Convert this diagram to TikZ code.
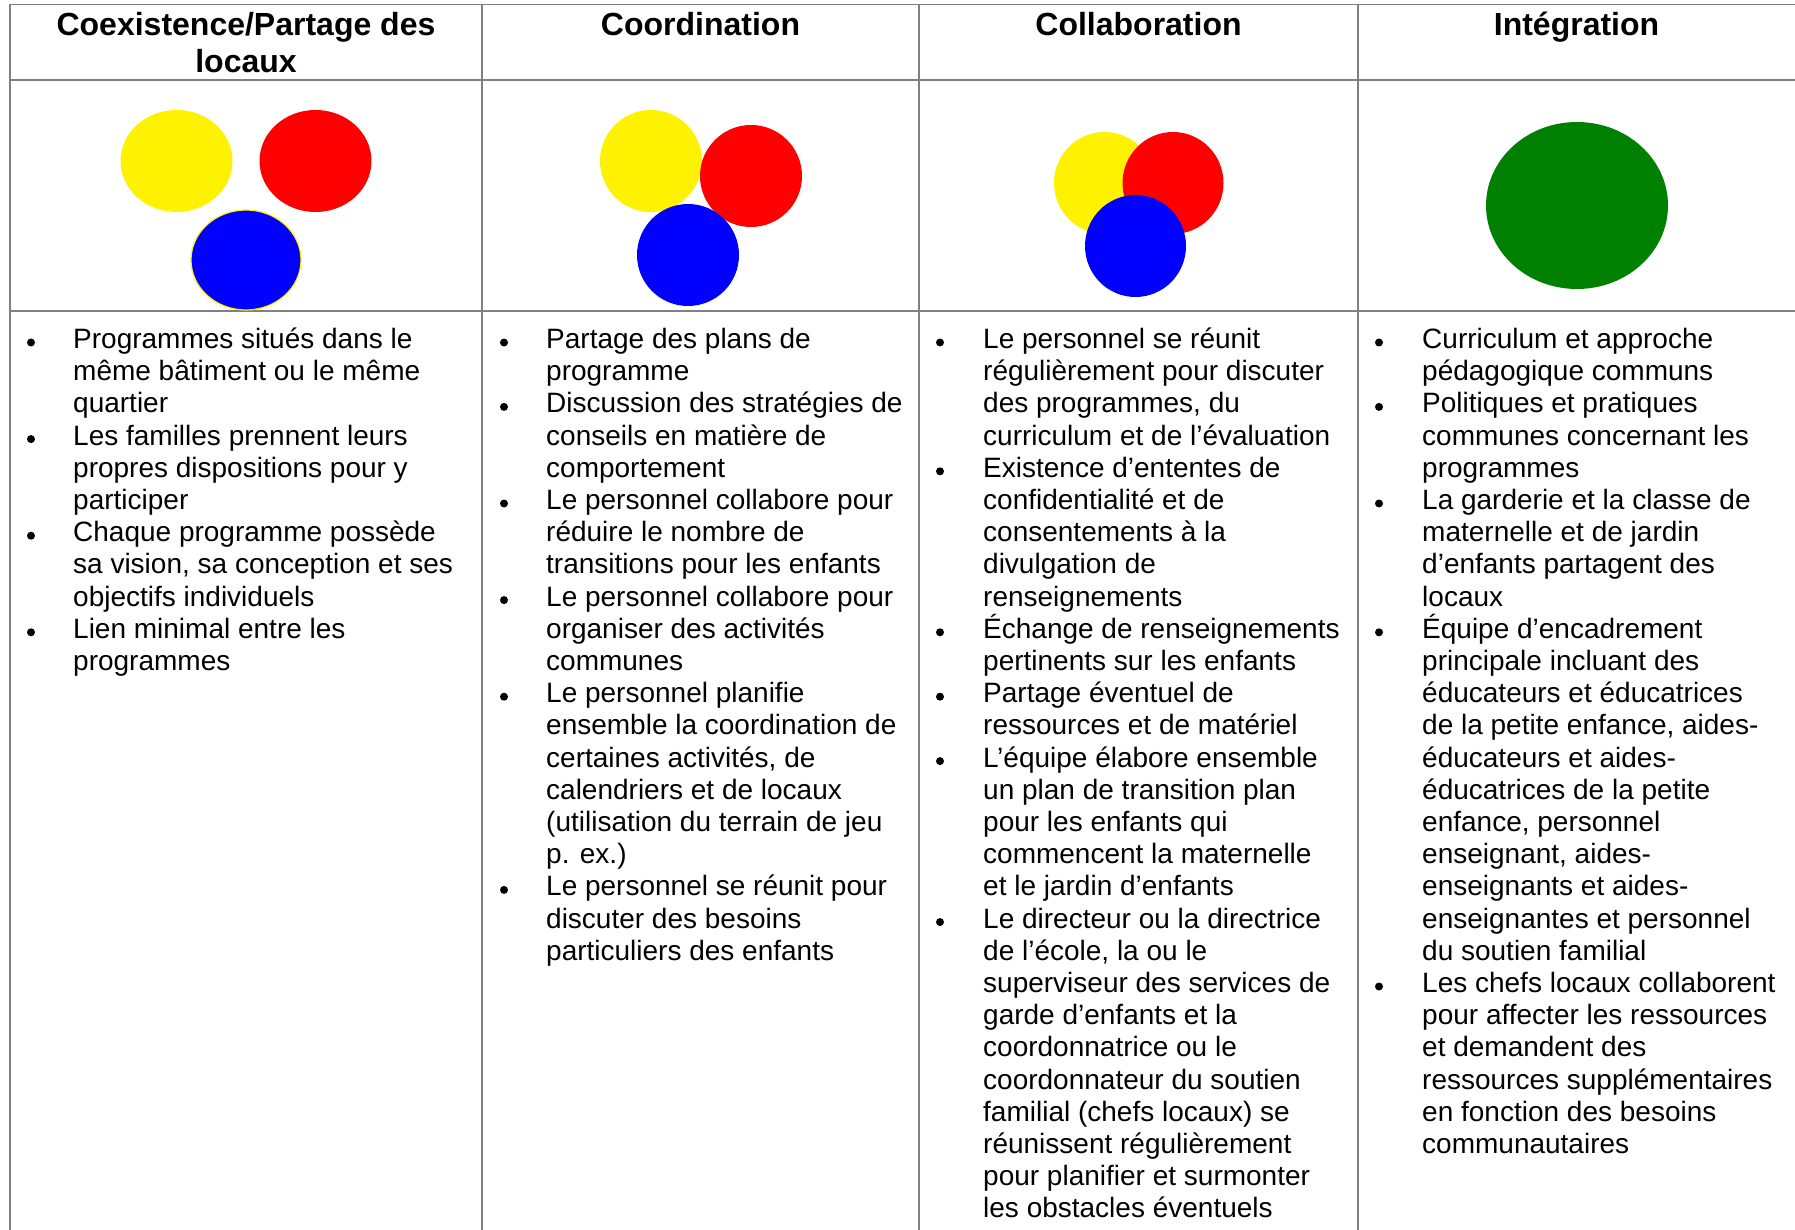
\documentclass[tikz,border=0pt]{standalone}
\usepackage{fontspec}
\setmainfont{Liberation Sans}
\newcommand\bi[1]{\hbox{#1}}
\newcommand\li[1]{\hbox{#1}}
\newcommand\col[1]{\vtop{\baselineskip=32.2pt\lineskiplimit=-100pt #1}}
\tikzset{
  grid/.style={draw=gray, line width=1.6pt},
  body/.style={font=\fontsize{28}{32.2}\selectfont, inner sep=0pt, anchor=base west},
  hdr/.style={font=\bfseries\fontsize{32}{36.8}\selectfont, inner sep=0pt, anchor=base},
  dot/.style={fill=black},
}
\begin{document}
\begin{tikzpicture}[x=1pt,y=-1pt]
\path[fill=white] (0,0) rectangle (1795,1230);
\useasboundingbox (0,0) rectangle (1795,1230);
% grid
\draw[grid] (10,4.5) -- (1800,4.5);
\draw[grid] (10,80) -- (1800,80);
\draw[grid] (10,311) -- (1800,311);
\foreach \x in {10,482,919,1358} \draw[grid] (\x,4.5) -- (\x,1235);
% headers
\node[hdr] (h1a) at (246,36) {Coexistence/Partage des};
\node[hdr] (h1b) at (246,72.8) {locaux};
\node[hdr] (h2) at (700.5,36) {Coordination};
\node[hdr] (h3) at (1138.5,36) {Collaboration};
\node[hdr] (h4) at (1576.5,36) {Intégration};
% shapes
\fill[yellow] (176.5,161) ellipse [x radius=56, y radius=51];
\fill[red] (315.5,161) ellipse [x radius=56, y radius=51];
\filldraw[fill=blue, draw=yellow, line width=1.2pt] (246,260) ellipse [x radius=55, y radius=50];
\fill[yellow] (651,161) circle [radius=51];
\fill[red] (751,176) circle [radius=51];
\fill[blue] (688,255) circle [radius=51];
\fill[yellow] (1104.5,183) ellipse [x radius=50.5, y radius=51];
\fill[red] (1173,183) ellipse [x radius=50.5, y radius=51];
\fill[blue] (1135.5,246) ellipse [x radius=50.5, y radius=51];
\fill[green!50!black] (1577,205.5) ellipse [x radius=91, y radius=83.5];
% bullets
\foreach \k in {0,3,6,9} \fill[dot] (31,342.5+32.2*\k) circle [radius=4];
\foreach \k in {0,2,5,8,11,17} \fill[dot] (504,342.5+32.2*\k) circle [radius=4];
\foreach \k in {0,4,9,11,13,18} \fill[dot] (940,342.5+32.2*\k) circle [radius=4];
\foreach \k in {0,2,5,9,20} \fill[dot] (1379,342.5+32.2*\k) circle [radius=4];
% body text
\node[body] (c1) at (73,348.5) {\col{%
\bi{Programmes situés dans le}
\li{même bâtiment ou le même}
\li{quartier}
\bi{Les familles prennent leurs}
\li{propres dispositions pour y}
\li{participer}
\bi{Chaque programme possède}
\li{sa vision, sa conception et ses}
\li{objectifs individuels}
\bi{Lien minimal entre les}
\li{programmes}}};
\node[body] (c2) at (546,348.5) {\col{%
\bi{Partage des plans de}
\li{programme}
\bi{Discussion des stratégies de}
\li{conseils en matière de}
\li{comportement}
\bi{Le personnel collabore pour}
\li{réduire le nombre de}
\li{transitions pour les enfants}
\bi{Le personnel collabore pour}
\li{organiser des activités}
\li{communes}
\bi{Le personnel planifie}
\li{ensemble la coordination de}
\li{certaines activités, de}
\li{calendriers et de locaux}
\li{(utilisation du terrain de jeu}
\li{p. ex.)}
\bi{Le personnel se réunit pour}
\li{discuter des besoins}
\li{particuliers des enfants}}};
\node[body] (c3) at (983,348.5) {\col{%
\bi{Le personnel se réunit}
\li{régulièrement pour discuter}
\li{des programmes, du}
\li{curriculum et de l’évaluation}
\bi{Existence d’ententes de}
\li{confidentialité et de}
\li{consentements à la}
\li{divulgation de}
\li{renseignements}
\bi{Échange de renseignements}
\li{pertinents sur les enfants}
\bi{Partage éventuel de}
\li{ressources et de matériel}
\bi{L’équipe élabore ensemble}
\li{un plan de transition plan}
\li{pour les enfants qui}
\li{commencent la maternelle}
\li{et le jardin d’enfants}
\bi{Le directeur ou la directrice}
\li{de l’école, la ou le}
\li{superviseur des services de}
\li{garde d’enfants et la}
\li{coordonnatrice ou le}
\li{coordonnateur du soutien}
\li{familial (chefs locaux) se}
\li{réunissent régulièrement}
\li{pour planifier et surmonter}
\li{les obstacles éventuels}}};
\node[body] (c4) at (1422,348.5) {\col{%
\bi{Curriculum et approche}
\li{pédagogique communs}
\bi{Politiques et pratiques}
\li{communes concernant les}
\li{programmes}
\bi{La garderie et la classe de}
\li{maternelle et de jardin}
\li{d’enfants partagent des}
\li{locaux}
\bi{Équipe d’encadrement}
\li{principale incluant des}
\li{éducateurs et éducatrices}
\li{de la petite enfance, aides-}
\li{éducateurs et aides-}
\li{éducatrices de la petite}
\li{enfance, personnel}
\li{enseignant, aides-}
\li{enseignants et aides-}
\li{enseignantes et personnel}
\li{du soutien familial}
\bi{Les chefs locaux collaborent}
\li{pour affecter les ressources}
\li{et demandent des}
\li{ressources supplémentaires}
\li{en fonction des besoins}
\li{communautaires}}};
\end{tikzpicture}
\end{document}
